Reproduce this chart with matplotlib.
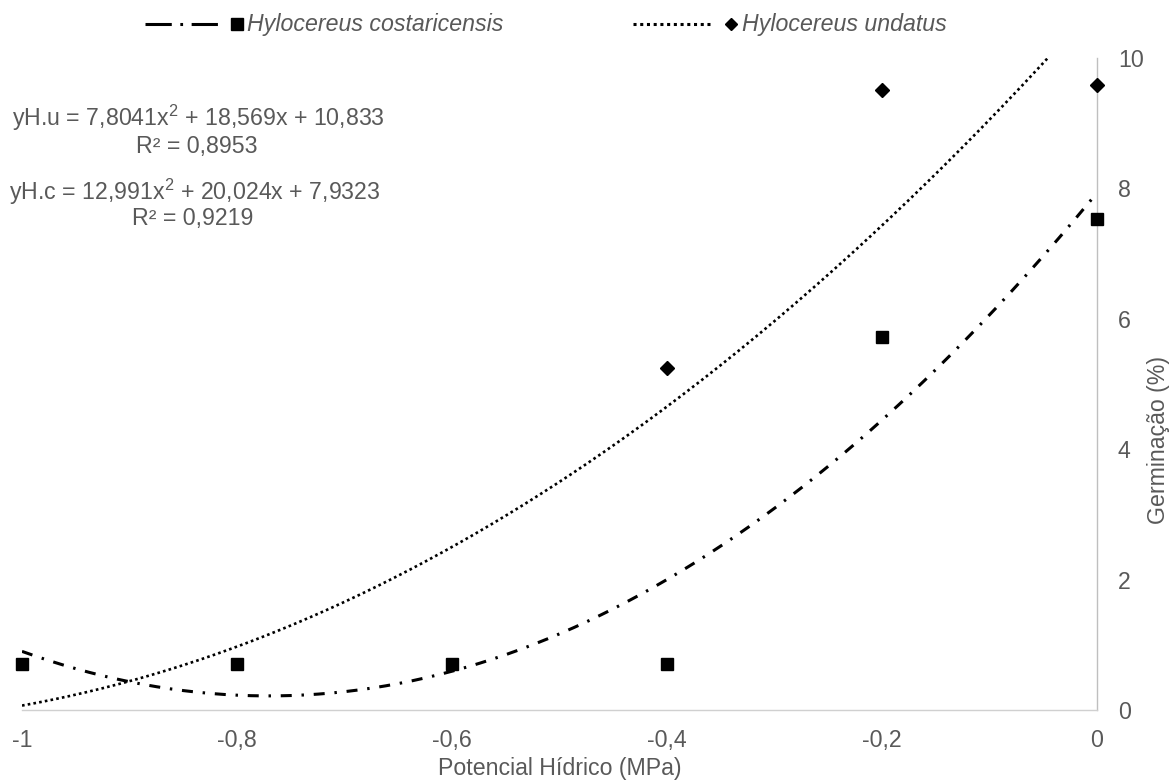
import numpy as np
import matplotlib
matplotlib.use("Agg")
import matplotlib.pyplot as plt
from matplotlib.ticker import FuncFormatter, MultipleLocator
from matplotlib.lines import Line2D

# Data
x_pot = [-1.0, -0.8, -0.6, -0.4, -0.2, 0.0]
y_costaricensis = [0.70, 0.70, 0.70, 0.70, 5.72, 7.53]
x_undatus = [-0.4, -0.2, 0.0]
y_undatus = [5.25, 9.51, 9.59]
coef_undatus = [7.8041, 18.569, 10.833]
coef_costaricensis = [12.991, 20.024, 7.9323]
label_c = "Hylocereus costaricensis"
label_u = "Hylocereus undatus"
eq_u = "yH.u = 7,8041x$^2$ + 18,569x + 10,833"
r2_u = "R² = 0,8953"
eq_c = "yH.c = 12,991x$^2$ + 20,024x + 7,9323"
r2_c = "R² = 0,9219"

plt.rcParams['font.family'] = ['Liberation Sans', 'DejaVu Sans']
plt.rcParams['mathtext.fontset'] = 'custom'
plt.rcParams['mathtext.rm'] = 'Liberation Sans'
plt.rcParams['mathtext.it'] = 'Liberation Sans:italic'
plt.rcParams['mathtext.default'] = 'regular'
txt = '#595959'
FS = 16.7

W, H = 1172, 780
fig = plt.figure(figsize=(W/100, H/100), dpi=100)
ax = fig.add_axes([22/W, 1 - 710/H, (1097-22)/W, (710-58)/H])

def fx(px):
    return px / W

def fy(py):
    return 1 - py / H

xs = np.linspace(-1, 0, 400)
dd = (0, (3.6, 3.2, 0.8, 3.2))
dot = (0, (1.0, 1.2))
ax.plot(xs, np.polyval(coef_costaricensis, xs), color='black', lw=2.2, linestyle=dd, zorder=2)
ax.plot(xs, np.polyval(coef_undatus, xs), color='black', lw=1.9, linestyle=dot, zorder=2)
ax.plot(x_pot, y_costaricensis, linestyle='none', marker='s', ms=9.2, color='black', zorder=3, clip_on=False)
ax.plot(x_undatus, y_undatus, linestyle='none', marker='D', ms=7.2, color='black', zorder=3, clip_on=False)

ax.set_xlim(-1, 0)
ax.set_ylim(0, 10)
ax.xaxis.set_major_locator(MultipleLocator(0.2))
ax.yaxis.set_major_locator(MultipleLocator(2))
fmt = FuncFormatter(lambda v, p: ('%g' % round(v, 2)).replace('.', ','))
ax.xaxis.set_major_formatter(fmt)
ax.yaxis.set_major_formatter(fmt)
ax.yaxis.tick_right()
ax.yaxis.set_label_position('right')
for s in ['left', 'top']:
    ax.spines[s].set_visible(False)
ax.spines['bottom'].set_color('#d0d0d0')
ax.spines['right'].set_color('#bfbfbf')
ax.spines['bottom'].set_linewidth(1.0)
ax.spines['right'].set_linewidth(1.0)
ax.tick_params(axis='both', length=0, labelsize=FS, colors=txt)
ax.tick_params(axis='x', pad=14)
ax.tick_params(axis='y', pad=15)
ax.set_xlabel('Potencial Hídrico (MPa)', fontsize=FS, color=txt)
ax.xaxis.set_label_coords(0.5, -(768 - 710) / (710 - 58))
ax.xaxis.label.set_va('center')
ax.set_ylabel('Germinação (%)', fontsize=FS, color=txt)
ax.yaxis.set_label_coords((1159 - 22) / (1097 - 22), (710 - 440) / (710 - 58))
ax.yaxis.label.set_va('center')

# Equations
fig.text(fx(12), fy(118), eq_u, fontsize=FS, color=txt, va='center', ha='left')
fig.text(fx(197), fy(146), r2_u, fontsize=FS, color=txt, va='center', ha='center')
fig.text(fx(9), fy(192), eq_c, fontsize=FS, color=txt, va='center', ha='left')
fig.text(fx(193), fy(219), r2_c, fontsize=FS, color=txt, va='center', ha='center')

# Legend (drawn manually)
ly = fy(24)
fig.add_artist(Line2D([fx(145), fx(218)], [ly, ly], transform=fig.transFigure,
                      color='black', lw=2.2, linestyle=(0, (8.6, 2.8, 0.9, 2.8))))
fig.add_artist(Line2D([fx(236.5)], [ly], transform=fig.transFigure, marker='s', ms=9,
                      color='black', linestyle='none'))
fig.text(fx(247), ly, label_c, fontsize=FS, color=txt, style='italic', va='center', ha='left')
fig.add_artist(Line2D([fx(633), fx(712)], [ly, ly], transform=fig.transFigure,
                      color='black', lw=2.2, linestyle=(0, (1.0, 1.2))))
fig.add_artist(Line2D([fx(731)], [ly], transform=fig.transFigure, marker='D', ms=6.5,
                      color='black', linestyle='none'))
fig.text(fx(742), ly, label_u, fontsize=FS, color=txt, style='italic', va='center', ha='left')

fig.savefig('out.png', dpi=100)
